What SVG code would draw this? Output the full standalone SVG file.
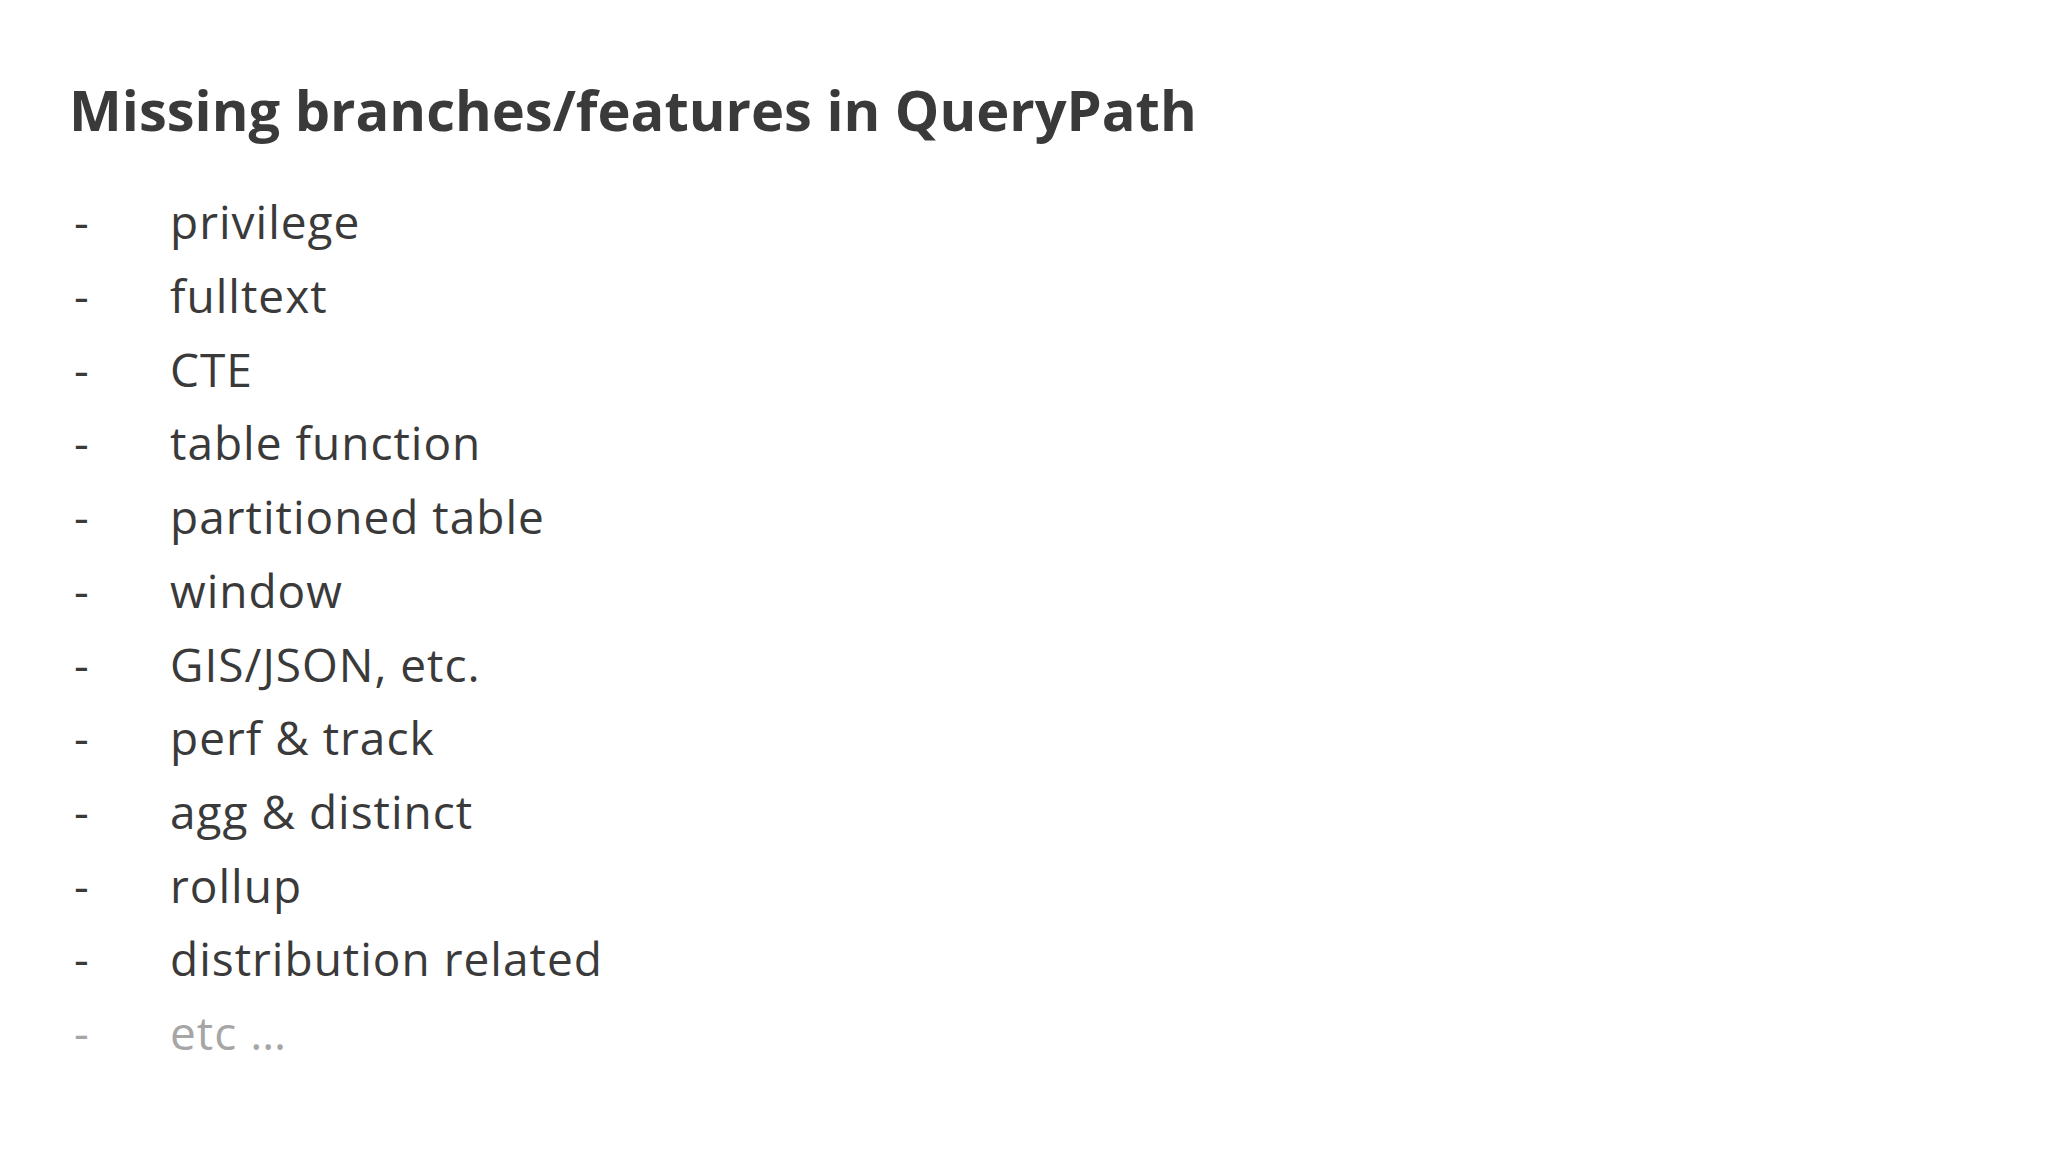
<svg xmlns="http://www.w3.org/2000/svg" width="2048" height="1152" viewBox="0 0 2048 1152">
<style>
.t{font-family:"Open Sans","Noto Sans",sans-serif;font-weight:bold;font-size:56px;fill:#3a3a3a}
.i{font-family:"Open Sans","Noto Sans",sans-serif;font-size:46px;fill:#3a3a3a;letter-spacing:1px}
.g{fill:#a6a6a6}
</style>
<rect width="2048" height="1152" fill="#fff"/>
<text class="t" x="69" y="131">Missing branches/features in QueryPath</text>
<g class="i">
<text x="74" y="239">-</text><text x="170" y="239">privilege</text>
<text x="74" y="313">-</text><text x="170" y="313">fulltext</text>
<text x="74" y="387">-</text><text x="170" y="387">CTE</text>
<text x="74" y="460">-</text><text x="170" y="460">table function</text>
<text x="74" y="534">-</text><text x="170" y="534">partitioned table</text>
<text x="74" y="608">-</text><text x="170" y="608">window</text>
<text x="74" y="682">-</text><text x="170" y="682">GIS/JSON, etc.</text>
<text x="74" y="755">-</text><text x="170" y="755">perf &amp; track</text>
<text x="74" y="829">-</text><text x="170" y="829">agg &amp; distinct</text>
<text x="74" y="903">-</text><text x="170" y="903">rollup</text>
<text x="74" y="976">-</text><text x="170" y="976">distribution related</text>
<text class="g" x="74" y="1050">-</text><text class="g" x="170" y="1050">etc …</text>
</g>
</svg>
